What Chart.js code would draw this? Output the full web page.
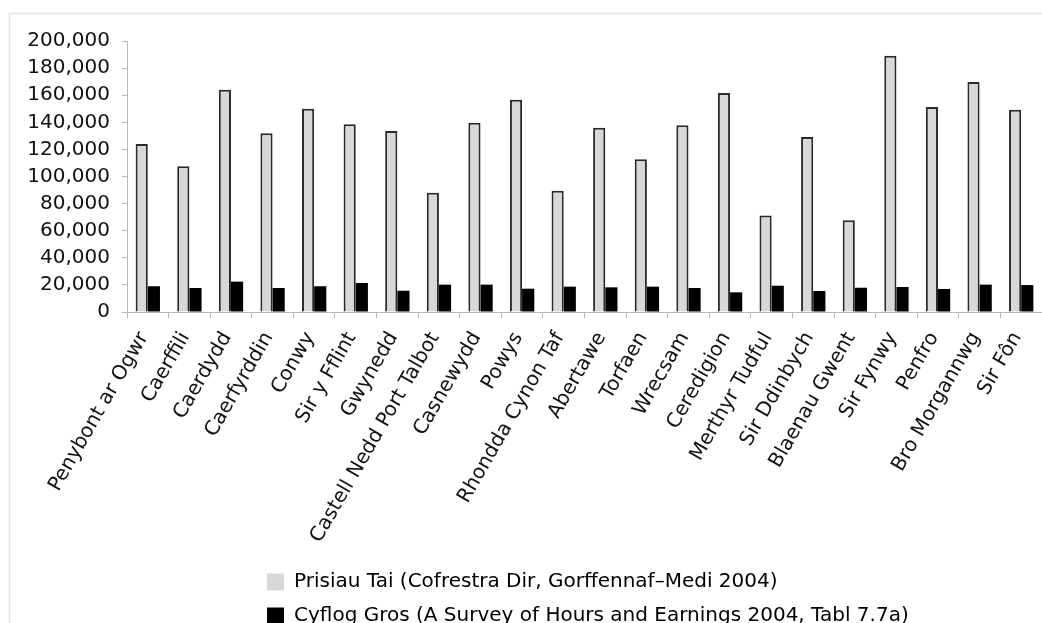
<!DOCTYPE html>
<html>
<head>
<meta charset="utf-8">
<script src="https://cdn.jsdelivr.net/npm/chart.js@4/dist/chart.umd.min.js"></script>
<style>
  html, body { margin: 0; padding: 0; background: #fff; overflow: hidden; }
  canvas { display: block; }
</style>
</head>
<body>
<canvas id="chart" width="1042" height="623"></canvas>
<script>
// Welsh local authorities
const categories = [
  'Penybont ar Ogwr', 'Caerffili', 'Caerdydd', 'Caerfyrddin', 'Conwy',
  'Sir y Fflint', 'Gwynedd', 'Castell Nedd Port Talbot', 'Casnewydd', 'Powys',
  'Rhondda Cynon Taf', 'Abertawe', 'Torfaen', 'Wrecsam', 'Ceredigion',
  'Merthyr Tudful', 'Sir Ddinbych', 'Blaenau Gwent', 'Sir Fynwy', 'Penfro',
  'Bro Morgannwg', 'Sir Fôn'
];

// Average house price (£)
const housePrices = [
  124000, 107500, 164100, 131900, 150000,
  138500, 133600, 88000, 139700, 156700,
  89500, 136000, 112700, 137800, 161600,
  71300, 129200, 67700, 189200, 151300,
  169700, 149300
];

// Gross annual pay (£)
const grossPay = [
  19000, 17700, 22400, 17700, 19000,
  21400, 15700, 20200, 20200, 17200,
  18700, 18200, 18700, 17700, 14500,
  19400, 15500, 17900, 18450, 17000,
  20200, 19900
];

const seriesNames = [
  'Prisiau Tai (Cofrestra Dir, Gorffennaf–Medi 2004)',
  'Cyflog Gros (A Survey of Hours and Earnings 2004, Tabl 7.7a)'
];

const yMin = 0;
const yMax = 200000;
const yStep = 20000;

const canvas = document.getElementById('chart');
const ctx = canvas.getContext('2d');

// fine stipple used as the fill for the house-price bars
function stipple() {
  const tile = document.createElement('canvas');
  tile.width = 2; tile.height = 2;
  const t = tile.getContext('2d');
  t.fillStyle = '#dddddd'; t.fillRect(0, 0, 2, 2);
  t.fillStyle = '#d2d2d2'; t.fillRect(0, 0, 1, 1); t.fillRect(1, 1, 1, 1);
  return ctx.createPattern(tile, 'repeat');
}
const greyFill = stipple();

Chart.defaults.font.family = '"DejaVu Sans", sans-serif';
Chart.defaults.font.size = 20;
Chart.defaults.color = '#111';

// thin frame around the whole chart
const framePlugin = {
  id: 'frame',
  beforeDraw(chart) {
    const c = chart.ctx;
    c.save();
    c.strokeStyle = '#e3e3e3';
    c.lineWidth = 1.5;
    c.beginPath();
    c.moveTo(9.5, chart.height);
    c.lineTo(9.5, 13.5);
    c.lineTo(chart.width, 13.5);
    c.stroke();
    c.restore();
  }
};

// stack the legend entries in one left-aligned column
const legendPlacement = {
  id: 'legendPlacement',
  afterLayout(chart) {
    const lg = chart.legend;
    if (!lg) return;
    const pad = lg.options.labels.padding;
    const dx = 267 - (lg.left + pad);
    const dy = 572 - (lg.top + pad);
    lg.left += dx; lg.right += dx;
    lg.top += dy; lg.bottom += dy;
  }
};

new Chart(ctx, {
  type: 'bar',
  data: {
    labels: categories,
    datasets: [
      {
        label: seriesNames[0],
        data: housePrices,
        backgroundColor: greyFill,
        borderColor: '#2a2a2a',
        borderWidth: 2,
        borderSkipped: 'bottom'
      },
      {
        label: seriesNames[1],
        data: grossPay,
        backgroundColor: '#000000',
        borderWidth: 0
      }
    ]
  },
  options: {
    responsive: false,
    animation: false,
    events: [],
    layout: { padding: { left: 0, right: 0, top: 41, bottom: 0 } },
    datasets: {
      bar: { categoryPercentage: 0.585, barPercentage: 1.0 }
    },
    scales: {
      x: {
        grid: {
          drawOnChartArea: false,
          drawTicks: true,
          tickLength: 6,
          color: '#b8b8b8',
          offset: true
        },
        border: { color: '#b8b8b8', width: 1 },
        ticks: {
          autoSkip: false,
          minRotation: 60,
          maxRotation: 60,
          padding: 10,
          labelOffset: -4,
          font: { size: 20 },
          color: '#111'
        },
        afterFit(scale) {
          scale.paddingLeft = 0;
          scale.paddingRight = 0;
          const legendH = scale.chart.legend ? scale.chart.legend.height : 0;
          scale.height = 623 - 312 - legendH;
        }
      },
      y: {
        min: yMin,
        max: yMax,
        grid: {
          drawOnChartArea: false,
          drawTicks: true,
          tickLength: 5,
          color: '#b8b8b8'
        },
        border: { color: '#b8b8b8', width: 1 },
        ticks: {
          stepSize: yStep,
          padding: 12,
          font: { size: 20 },
          color: '#111',
          callback: (v) => v.toLocaleString('en-US')
        },
        afterFit(scale) {
          scale.width = 127;
          scale.paddingTop = 0;
          scale.paddingBottom = 0;
        }
      }
    },
    plugins: {
      legend: {
        position: 'bottom',
        align: 'start',
        labels: {
          boxWidth: 17,
          boxHeight: 17,
          padding: 14,
          font: { size: 20 },
          color: '#000',
          generateLabels(chart) {
            const items = Chart.defaults.plugins.legend.labels.generateLabels(chart);
            items.forEach((it) => { it.lineWidth = 0; });
            return items;
          }
        }
      },
      tooltip: { enabled: false }
    }
  },
  plugins: [framePlugin, legendPlacement]
});
</script>
</body>
</html>
